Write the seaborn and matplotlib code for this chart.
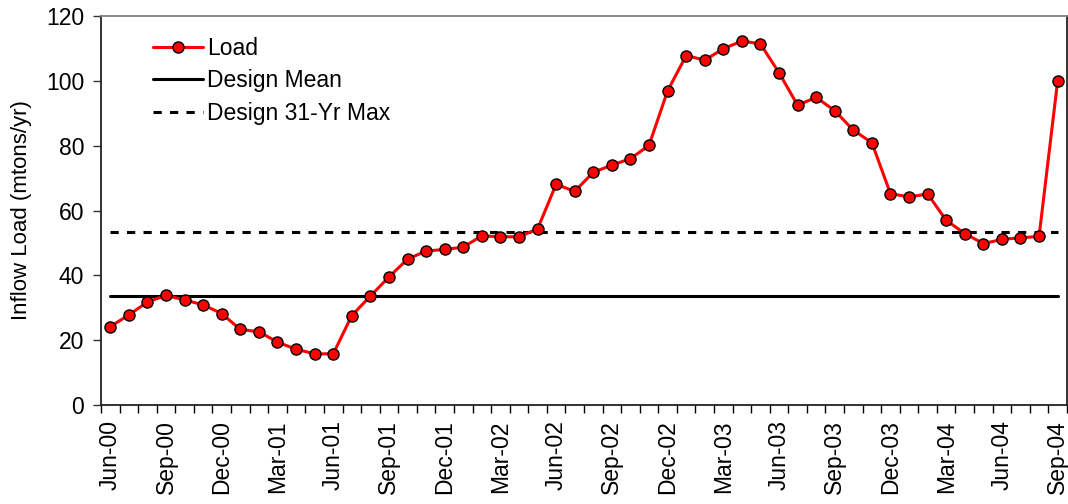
import matplotlib
matplotlib.use("Agg")
import matplotlib.pyplot as plt
import numpy as np
import pandas as pd
import seaborn as sns

# Monthly inflow load, Jun-2000 through Sep-2004 (mtons/yr)
months = pd.date_range("2000-06-01", "2004-09-01", freq="MS")
month_labels = [m.strftime("%b-%y") for m in months]
load = [24.2, 27.8, 31.8, 33.8, 32.4, 30.9, 28.2, 23.3, 22.6, 19.4, 17.2, 15.8,
        15.8, 27.6, 33.6, 39.5, 45.0, 47.5, 48.0, 48.7, 52.2, 51.9, 51.9, 54.3,
        68.1, 65.9, 71.8, 74.0, 76.0, 80.1, 96.9, 107.8, 106.4, 109.9, 112.3, 111.4,
        102.5, 92.5, 94.9, 90.8, 84.8, 80.9, 65.2, 64.2, 65.1, 57.0, 52.9, 49.8,
        51.1, 51.6, 52.0, 100.0]
design_mean = 33.7
design_max = 53.3

df = pd.DataFrame({"idx": np.arange(len(load)), "month": month_labels, "load": load})
df["mean"] = design_mean
df["max"] = design_max

sns.set_style("ticks")
plt.rcParams["font.family"] = ["Liberation Sans", "DejaVu Sans"]
plt.rcParams["text.color"] = "black"
plt.rcParams["axes.labelcolor"] = "black"
plt.rcParams["xtick.color"] = "black"
plt.rcParams["ytick.color"] = "black"
fs = 16.5

fig = plt.figure(figsize=(10.68, 5.04), dpi=100)
ax = fig.add_axes([0.0946, 0.1964, 0.9044, 0.7718])

sns.lineplot(data=df, x="idx", y="load", ax=ax, color="#ff0000", lw=2.2,
             marker="o", markersize=8, markerfacecolor="#ff0000",
             markeredgecolor="black", markeredgewidth=1.0, label="Load", zorder=4)
sns.lineplot(data=df, x="idx", y="mean", ax=ax, color="black", lw=2.2,
             label="Design Mean", zorder=3)
sns.lineplot(data=df, x="idx", y="max", ax=ax, color="black", lw=2.2,
             label="Design 31-Yr Max", zorder=3)
ax.lines[-1].set_dashes([2.7, 2.7])

n = len(load)
ax.set_xlim(-0.5, n - 0.5)
ax.set_ylim(0, 120)
ax.set_yticks(np.arange(0, 121, 20))
ax.set_xticks(np.arange(0, n, 3))
ax.set_xticklabels(month_labels[::3], rotation=90)
ax.set_xticks(np.arange(-0.5, n, 1), minor=True)
ax.tick_params(axis="x", which="major", length=0, pad=11, labelsize=fs, labelcolor="black")
ax.tick_params(axis="x", which="minor", length=6, width=1.0, color="black", direction="out")
ax.tick_params(axis="y", length=6, width=1.0, color="#333333", labelsize=fs, pad=6,
               labelcolor="black")
ax.set_xlabel("")
ax.set_ylabel("Inflow Load (mtons/yr)", fontsize=16, labelpad=10, color="black")

for side in ["left", "bottom", "right"]:
    ax.spines[side].set_color("#222222")
    ax.spines[side].set_linewidth(1.3)
ax.spines["top"].set_color("#808080")
ax.spines["top"].set_linewidth(1.3)

leg = ax.legend(loc="upper left", bbox_to_anchor=(0.044, 0.97), frameon=False,
                fontsize=fs, handlelength=2.2, handletextpad=0.18, labelspacing=0.42,
                borderaxespad=0)
for t in leg.get_texts():
    t.set_color("black")
leg.legend_handles[2].set_dashes([2.7, 2.7])

fig.savefig("out.png", dpi=100)
